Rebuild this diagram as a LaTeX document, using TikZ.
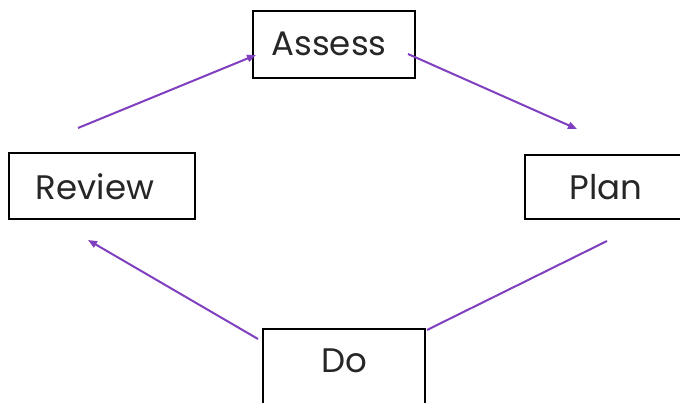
\documentclass[tikz,border=0pt]{standalone}
\usepackage{fontspec}
\setmainfont{Poppins}
\usetikzlibrary{arrows.meta}
\definecolor{arrowpurple}{HTML}{7F3FBF}
\tikzset{
  boxnode/.style={draw=black, line width=2pt, fill=white, inner sep=0pt},
  lbl/.style={inner sep=0pt, font=\fontsize{34}{36}\selectfont, text=black!85},
  conn/.style={draw=arrowpurple, line width=2pt},
  tip/.style={-{Triangle[length=9pt,width=7pt]}}
}
\begin{document}
\begin{tikzpicture}[x=1pt,y=-1pt]
\useasboundingbox (0,0) rectangle (680,403);
\clip (0,0) rectangle (680,403);
\fill[white] (0,0) rectangle (680,403);
% boxes
\node[boxnode, minimum width=162pt, minimum height=67pt] (assess) at (334,44.5) {};
\node[boxnode, minimum width=186pt, minimum height=66pt] (review) at (102,186) {};
\node[boxnode, minimum width=190pt, minimum height=64pt] (plan) at (620,187) {};
\node[boxnode, minimum width=162pt, minimum height=84pt] (do) at (344,371) {};
% labels
\node[lbl] (tassess) at (329,44) {Assess};
\node[lbl] (treview) at (95,187) {Review};
\node[lbl] (tplan) at (606,187) {Plan};
\node[lbl] (tdo) at (344,361) {Do};
% connector ends
\coordinate (a1) at (78,128);
\coordinate (a2) at (256,55);
\coordinate (b1) at (408,54);
\coordinate (b2) at (577,129);
\coordinate (c1) at (607,241);
\coordinate (c2) at (427,330);
\coordinate (d1) at (258,339);
\coordinate (d2) at (88,240);
\draw[conn, tip] (a1) -- (a2);
\draw[conn, tip] (b1) -- (b2);
\draw[conn] (c1) -- (c2);
\draw[conn, tip] (d1) -- (d2);
\end{tikzpicture}
\end{document}
